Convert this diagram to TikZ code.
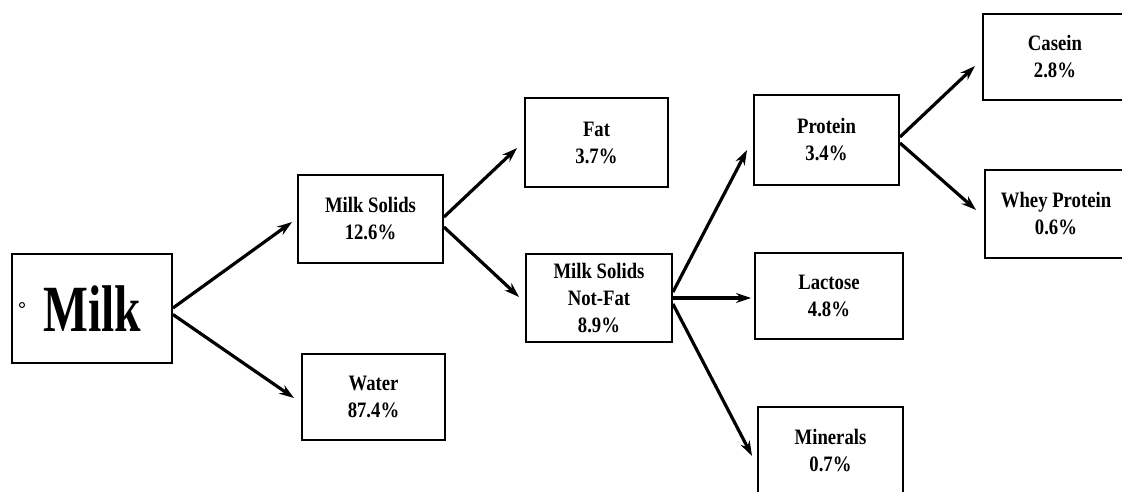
\documentclass[tikz,border=0pt]{standalone}
\usepackage{fontspec}
\setmainfont{Liberation Serif}
\newfontfamily\labelfont[FakeStretch=0.85]{Liberation Serif}
\newfontfamily\titlefont[FakeStretch=0.72]{Liberation Serif}
\usetikzlibrary{arrows.meta,calc}

\begin{document}
\begin{tikzpicture}[x=1pt,y=-1pt,
  box/.style={draw, line width=1.9pt, inner sep=0pt, align=center,
    font=\labelfont\bfseries\fontsize{22}{27}\selectfont},
  flow/.style={line width=3.2pt, -{Stealth[length=15pt,width=10pt]}}]
  \useasboundingbox (0,0) rectangle (1122,492);
  \clip (0,0) rectangle (1122,492);

  % stages of the breakdown
  \node[box, minimum width=160pt, minimum height=109pt,
        font=\titlefont\bfseries\fontsize{66}{70}\selectfont] (milk) at (92,308.5) {Milk};
  \node[box, minimum width=145pt, minimum height=88pt] (solids) at (370.5,219) {Milk Solids\\12.6\%};
  \node[box, minimum width=143pt, minimum height=86pt] (water) at (373.5,397) {Water\\87.4\%};
  \node[box, minimum width=143pt, minimum height=89pt] (fat) at (596.5,142.5) {Fat\\3.7\%};
  \node[box, minimum width=146pt, minimum height=88pt] (msnf) at (599,298) {Milk Solids\\Not-Fat\\8.9\%};
  \node[box, minimum width=145pt, minimum height=90pt] (protein) at (826.5,140) {Protein\\3.4\%};
  \node[box, minimum width=148pt, minimum height=86pt] (lactose) at (829,296) {Lactose\\4.8\%};
  \node[box, minimum width=145pt, minimum height=88pt] (minerals) at (830.5,451) {Minerals\\0.7\%};
  \node[box, minimum width=144pt, minimum height=86pt] (casein) at (1055,57) {Casein\\2.8\%};
  \node[box, minimum width=142pt, minimum height=88pt] (whey) at (1056,214) {Whey Protein\\0.6\%};

  % small mark inside the first box
  \coordinate (mark) at (22,305);
  \draw[line width=1pt] (mark) circle (2.5);

  % connectors
  \draw[flow] ($(milk.east)+(0,-0.5)$) -- ($(solids.west)+(-5,3)$);
  \draw[flow] ($(milk.east)+(0,6)$) -- ($(water.west)+(-7,1)$);
  \draw[flow] ($(solids.east)+(0,-2)$) -- ($(fat.west)+(-7,5.5)$);
  \draw[flow] ($(solids.east)+(0,8)$) -- ($(msnf.west)+(-6,-1)$);
  \draw[flow] ($(msnf.east)+(0,-6)$) -- ($(protein.west)+(-6,10)$);
  \draw[flow] (msnf.east) -- ($(lactose.west)+(-3,2)$);
  \draw[flow] ($(msnf.east)+(0,6)$) -- ($(minerals.west)+(-5,5)$);
  \draw[flow] ($(protein.east)+(0,-3)$) -- ($(casein.west)+(-7,9)$);
  \draw[flow] ($(protein.east)+(0,3)$) -- ($(whey.west)+(-8,-4)$);
\end{tikzpicture}
\end{document}
